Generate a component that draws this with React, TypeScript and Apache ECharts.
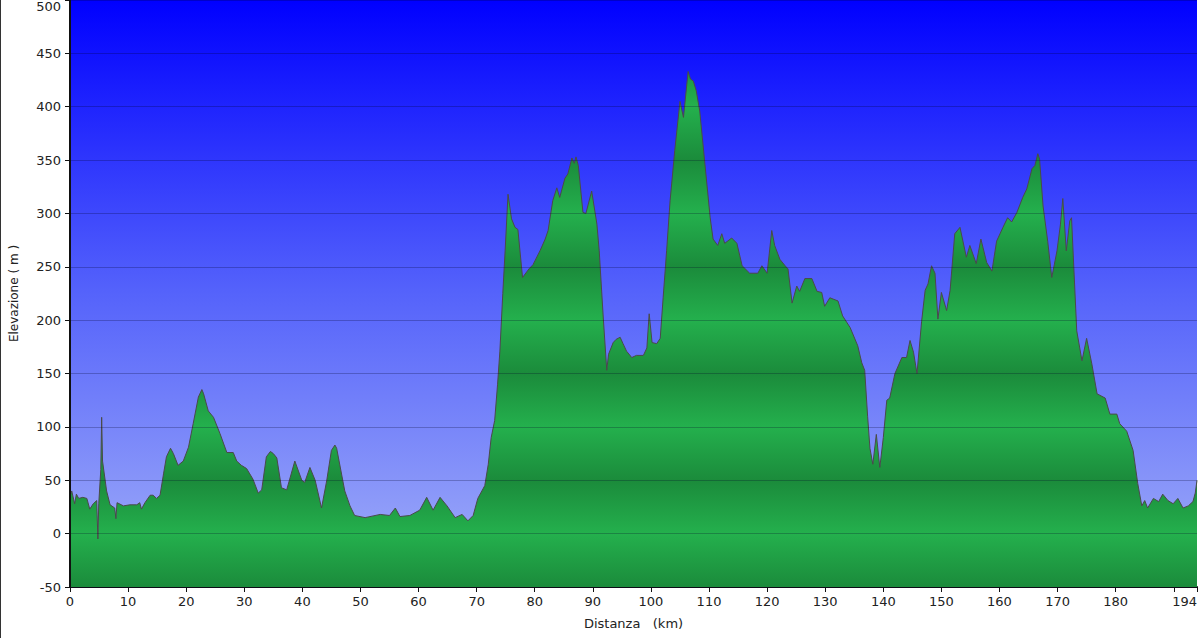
import React, { useEffect, useRef } from "react";
import * as echarts from "echarts";

const distanceKm = [
  0, 0.3, 0.8, 1.1, 1.5, 2.2, 2.9, 3.4, 4.0, 4.6, 4.8, 4.95, 5.3, 5.45, 5.6, 6.3, 6.9, 7.7, 7.9, 8.1,
  9.2, 10.3, 11.5, 12.0, 12.3, 12.9, 13.8, 14.3, 14.9, 15.5, 16.1, 16.6, 17.3, 17.8, 18.6, 19.5, 20.4,
  21.2, 22.1, 22.7, 23.0, 23.8, 24.7, 25.8, 27.0, 28.1, 28.7, 29.5, 30.4, 31.5, 32.4, 33.0, 33.8, 34.5,
  35.0, 35.6, 36.4, 37.3, 38.7, 39.9, 40.4, 41.3, 42.2, 43.3, 44.2, 45.0, 45.6, 45.9, 47.3, 48.2, 49.0,
  50.8, 53.4, 55.0, 56.0, 56.8, 58.5, 60.2, 61.4, 62.5, 63.7, 64.9, 66.3, 67.5, 68.5, 69.4, 70.2, 71.4,
  72.0, 72.5, 73.1, 73.6, 74.0, 74.5, 74.9, 75.4, 76.0, 76.6, 77.1, 77.9, 79.0, 79.7, 80.9, 81.8, 82.3,
  83.1, 83.8, 84.3, 85.2, 85.7, 86.4, 86.8, 87.1, 87.5, 88.3, 88.8, 89.8, 90.7, 91.1, 91.8, 92.4, 92.7,
  93.5, 94.0, 94.7, 95.2, 95.8, 96.7, 97.5, 98.7, 99.3, 99.7, 100.2, 101.0, 101.6, 102.1, 102.7, 103.3,
  104.1, 105.0, 105.6, 106.4, 106.8, 107.3, 107.8, 108.4, 109.3, 110.2, 110.7, 111.5, 112.2, 112.7,
  113.9, 114.8, 115.7, 117.0, 118.4, 119.1, 120.0, 120.8, 121.3, 122.2, 123.1, 123.6, 124.3, 125.1,
  125.6, 126.5, 127.7, 128.6, 129.4, 129.9, 130.8, 132.2, 133.0, 134.3, 135.6, 136.3, 136.8, 137.3,
  137.7, 138.2, 138.8, 139.4, 140.0, 140.6, 141.1, 142.0, 143.2, 144.0, 144.6, 145.2, 145.8, 146.6,
  147.2, 147.7, 148.3, 148.9, 149.4, 150.0, 150.9, 151.5, 152.3, 153.2, 154.3, 154.9, 156.0, 156.8,
  157.8, 158.7, 159.5, 160.6, 161.4, 162.1, 163.0, 164.0, 164.7, 165.6, 166.1, 166.6, 166.9, 167.5,
  168.3, 169.0, 169.9, 170.5, 170.9, 171.5, 172.1, 172.4, 173.3, 174.2, 175.0, 175.9, 176.8, 178.2,
  179.0, 180.2, 180.7, 181.9, 183.0, 183.8, 184.5, 185.0, 185.5, 186.5, 187.4, 188.1, 189.0, 189.9,
  190.7, 191.6, 192.5, 193.3, 193.7, 194.0,
];

const elevationM = [
  35, 40, 28, 37, 33, 34, 33, 23, 28, 31, -5, 28, 60, 109, 68, 40, 27, 24, 14, 29,
  26, 27, 27, 29, 23, 29, 36, 36, 33, 36, 56, 72, 80, 75, 64, 68, 81,
  103, 128, 135, 131, 115, 109, 94, 76, 76, 68, 64, 61, 51, 38, 41, 72, 77,
  75, 71, 43, 41, 68, 50, 48, 62, 50, 24, 50, 78, 83, 80, 40, 26, 17,
  15, 18, 17, 24, 16, 17, 22, 34, 22, 34, 26, 15, 18, 12, 17, 33, 45,
  65, 90, 106, 140, 171, 225, 265, 318, 295, 287, 285, 240, 248, 252, 265, 276, 284,
  312, 324, 315, 333, 337, 352, 347, 353, 345, 301, 300, 321, 290, 265, 202, 153, 168,
  179, 182, 184, 178, 171, 165, 167, 167, 174, 206, 179, 178, 183, 221, 265, 312,
  359, 405, 390, 433, 426, 424, 415, 396, 346, 296, 276, 270, 281, 272,
  277, 272, 251, 244, 244, 251, 244, 284, 270, 257, 251, 248, 216, 232,
  227, 239, 239, 227, 226, 213, 221, 218, 204, 193, 176, 160, 153, 110,
  80, 65, 93, 62, 90, 125, 127, 150, 165, 165, 181, 170, 150, 199,
  228, 234, 251, 244, 201, 226, 209, 228, 281, 287, 259, 270, 253, 276,
  254, 246, 274, 287, 296, 292, 301, 315, 323, 342, 345, 356, 351, 307,
  274, 240, 265, 290, 314, 265, 293, 296, 190, 162, 183, 159, 131, 127,
  112, 112, 103, 96, 78, 47, 26, 31, 24, 33, 30, 37, 31, 28,
  33, 24, 26, 30, 38, 50,
];

const yMin = -50;
const yMax = 500;
const yStep = 50;
const xMax = 194;
const xStep = 10;

const xAxisTitle = "Distanza   (km)";
const yAxisTitle = "Elevazione ( m )";

export default function App() {
  const ref = useRef<HTMLDivElement>(null);

  useEffect(() => {
    if (!ref.current) return;
    const chart = echarts.init(ref.current, null, { renderer: "svg" });

    const gridTop = 0;
    const gridBottomPx = 587;
    // banded green fill: light at multiples of 100, dark at odd multiples of 50
    const stops: { offset: number; color: string }[] = [];
    for (let v = yMax; v >= yMin; v -= 50) {
      const off = (yMax - v) / (yMax - yMin);
      const light = Math.round(v / 50) % 2 === 0;
      stops.push({ offset: off, color: light ? "#24B04D" : "#1B8B3B" });
    }
    const greenFill = new echarts.graphic.LinearGradient(0, gridTop, 0, gridBottomPx, stops, true);

    const data = distanceKm.map((d, i) => [d, elevationM[i]]);

    chart.setOption({
      animation: false,
      backgroundColor: "#ffffff",
      textStyle: { fontFamily: "DejaVu Sans, Verdana, sans-serif" },
      grid: {
        left: 70,
        right: 3,
        top: 0,
        bottom: 51,
        containLabel: false,
        outerBoundsMode: "none",
        show: true,
        borderWidth: 0,
        backgroundColor: new echarts.graphic.LinearGradient(0, 0, 0, 1, [
          { offset: 0, color: "#0000FF" },
          { offset: 0.5, color: "#5563FB" },
          { offset: 1, color: "#A3B0F8" },
        ]),
      },
      xAxis: {
        type: "value",
        min: 0,
        max: xMax,
        interval: xStep,
        name: xAxisTitle,
        nameLocation: "middle",
        nameGap: 30,
        nameTextStyle: { fontSize: 13, color: "#222" },
        axisLine: { show: true, onZero: false, lineStyle: { color: "#111", width: 2 } },
        axisTick: { show: true, length: 5, lineStyle: { color: "#111" } },
        axisLabel: {
          fontSize: 13,
          color: "#222",
          margin: 8,
          alignMaxLabel: "right",
          formatter: (v: number) => (v === 190 ? "" : String(v)),
        },
        splitLine: { show: false },
      },
      yAxis: {
        type: "value",
        min: yMin,
        max: yMax,
        interval: yStep,
        z: 3,
        name: yAxisTitle,
        nameLocation: "middle",
        nameGap: 50,
        nameTextStyle: { fontSize: 12, color: "#222" },
        axisLine: { show: true, lineStyle: { color: "#111", width: 2 } },
        axisTick: { show: true, length: 5, lineStyle: { color: "#111" } },
        axisLabel: { fontSize: 13, color: "#222", margin: 9, verticalAlignMaxLabel: "top" },
        splitLine: { show: true, lineStyle: { color: "rgba(0,0,40,0.25)", width: 1 } },
      },
      series: [
        {
          type: "line",
          data,
          showSymbol: false,
          smooth: false,
          z: 2,
          lineStyle: { color: "#4a4a4a", width: 1 },
          areaStyle: { color: greenFill, opacity: 1, origin: "start" },
        },
      ],
      graphic: [
        {
          type: "line",
          shape: { x1: 0.5, y1: 0, x2: 0.5, y2: 638 },
          style: { stroke: "#333", lineWidth: 1 },
        },
      ],
    });

    return () => chart.dispose();
  }, []);

  return (
    <div
      ref={ref}
      style={{ position: "absolute", left: 0, top: 0, width: 1200, height: 638 }}
    />
  );
}
